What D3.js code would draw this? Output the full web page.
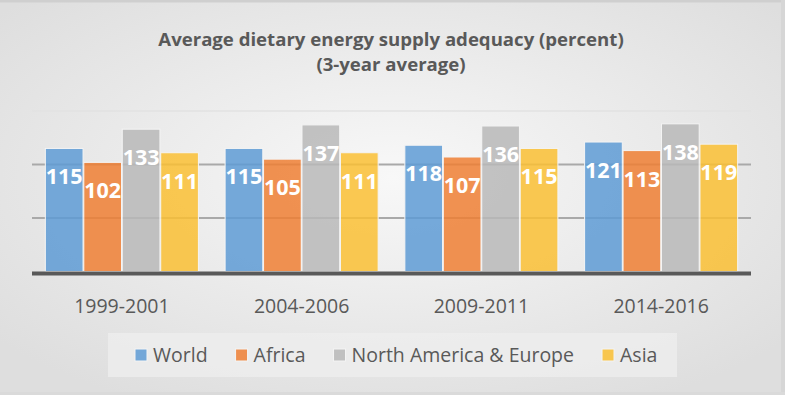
<!DOCTYPE html>
<html>
<head>
<meta charset="utf-8">
<script src="https://cdn.jsdelivr.net/npm/d3@7"></script>
<style>
  html, body { margin: 0; padding: 0; background: #e6e6e6; }
  svg { display: block; }
</style>
</head>
<body>
<script>
// Data
const periods = ["1999-2001", "2004-2006", "2009-2011", "2014-2016"];
const seriesNames = ["World", "Africa", "North America & Europe", "Asia"];
const world = [115, 115, 118, 121];
const africa = [102, 105, 107, 113];
const naEurope = [133, 137, 136, 138];
const asia = [111, 111, 115, 119];
const gridTicks = [50, 100, 150];

const colors = ["#5e9bd5", "#ef7f34", "#b9b9b9", "#fac034"];
const seriesValues = [world, africa, naEurope, asia];

const width = 785, height = 395;
const margin = { top: 111, right: 34, bottom: 123.5, left: 32 };
const plotWidth = width - margin.left - margin.right;
const plotHeight = height - margin.top - margin.bottom;

const svg = d3.select("body")
    .append("svg")
    .attr("width", width)
    .attr("height", height);

// Background with a soft radial light
const defs = svg.append("defs");
const grad = defs.append("radialGradient")
    .attr("id", "bg")
    .attr("cx", "50%").attr("cy", "45%").attr("r", "65%");
grad.append("stop").attr("offset", "0%").attr("stop-color", "#f8f8f8");
grad.append("stop").attr("offset", "100%").attr("stop-color", "#dedede");

svg.append("rect")
    .attr("width", width).attr("height", height)
    .attr("fill", "url(#bg)");
// thin frame at top, right and bottom
svg.append("rect").attr("x", 0).attr("y", 0).attr("width", width).attr("height", 2.5).attr("fill", "#cfcfcf");
svg.append("rect").attr("x", 781).attr("y", 0).attr("width", 4).attr("height", height).attr("fill", "#d6d6d6");
svg.append("rect").attr("x", 0).attr("y", 392).attr("width", width).attr("height", 3).attr("fill", "#dadada");

// Title
const title = svg.append("text")
    .attr("text-anchor", "middle")
    .attr("font-family", "'Open Sans', sans-serif")
    .attr("font-weight", "bold")
    .attr("font-size", "18.6px")
    .attr("fill", "#595959");
title.append("tspan").attr("x", 391).attr("y", 46).text("Average dietary energy supply adequacy (percent)");
title.append("tspan").attr("x", 391).attr("y", 71).text("(3-year average)");

const g = svg.append("g")
    .attr("transform", `translate(${margin.left},${margin.top})`);

// Scales
const x0 = d3.scaleBand()
    .domain(periods)
    .range([0, plotWidth])
    .paddingInner(0.14)
    .paddingOuter(0.07);

const x1 = d3.scaleBand()
    .domain(seriesNames)
    .range([0, x0.bandwidth()])
    .padding(0.02);

const y = d3.scaleLinear()
    .domain([0, 150])
    .range([plotHeight, 0]);

// Gridlines
g.append("g")
    .selectAll("line")
    .data(gridTicks)
    .join("line")
    .attr("x1", 0)
    .attr("x2", plotWidth)
    .attr("y1", d => y(d))
    .attr("y2", d => y(d))
    .attr("stroke", d => d === 150 ? "#e2e2e2" : "#a9a9a9")
    .attr("stroke-width", d => d === 150 ? 1.5 : 2);

// Bars
const groups = g.append("g")
    .selectAll("g")
    .data(periods)
    .join("g")
    .attr("transform", d => `translate(${x0(d)},0)`);

const cells = groups.selectAll("g")
    .data((p, i) => seriesNames.map((s, k) => ({ series: s, k: k, value: seriesValues[k][i] })))
    .join("g");

cells.append("rect")
    .attr("x", d => x1(d.series))
    .attr("y", d => y(d.value))
    .attr("width", x1.bandwidth())
    .attr("height", d => y(0) - y(d.value))
    .attr("fill", d => colors[d.k])
    .attr("fill-opacity", 0.85)
    .attr("stroke", "#f4f4f4")
    .attr("stroke-width", 1);

cells.append("text")
    .attr("x", d => x1(d.series) + x1.bandwidth() / 2)
    .attr("y", d => y(d.value) + 36)
    .attr("text-anchor", "middle")
    .attr("font-family", "'Open Sans', sans-serif")
    .attr("font-weight", "bold")
    .attr("font-size", "21.5px")
    .attr("fill", "#ffffff")
    .text(d => d.value);

// Baseline axis
g.append("line")
    .attr("x1", 0)
    .attr("x2", plotWidth)
    .attr("y1", y(0) + 2)
    .attr("y2", y(0) + 2)
    .attr("stroke", "#595959")
    .attr("stroke-width", 4);

// Category labels
const xAxis = g.append("g")
    .attr("transform", `translate(0,${plotHeight})`)
    .call(d3.axisBottom(x0).tickSize(0).tickPadding(28));
xAxis.select(".domain").remove();
xAxis.selectAll("text")
    .attr("font-family", "'Open Sans', sans-serif")
    .attr("font-size", "19.5px")
    .attr("fill", "#595959");

// Legend
svg.append("rect")
    .attr("x", 108).attr("y", 333)
    .attr("width", 569).attr("height", 44)
    .attr("fill", "#ededed")
    .attr("fill-opacity", 0.8);

const legend = svg.append("g");
let lx = 135;
seriesNames.forEach((name, k) => {
    const item = legend.append("g").attr("transform", `translate(${lx},355)`);
    item.append("rect")
        .attr("x", 0).attr("y", -6)
        .attr("width", 12).attr("height", 12)
        .attr("fill", colors[k])
        .attr("fill-opacity", 0.85)
        .attr("stroke", "#f4f4f4");
    const t = item.append("text")
        .attr("x", 18)
        .attr("dy", "0.35em")
        .attr("font-family", "'Open Sans', sans-serif")
        .attr("font-size", "19.5px")
        .attr("fill", "#595959")
        .text(name);
    lx += 18 + t.node().getComputedTextLength() + 28;
});
</script>
</body>
</html>
